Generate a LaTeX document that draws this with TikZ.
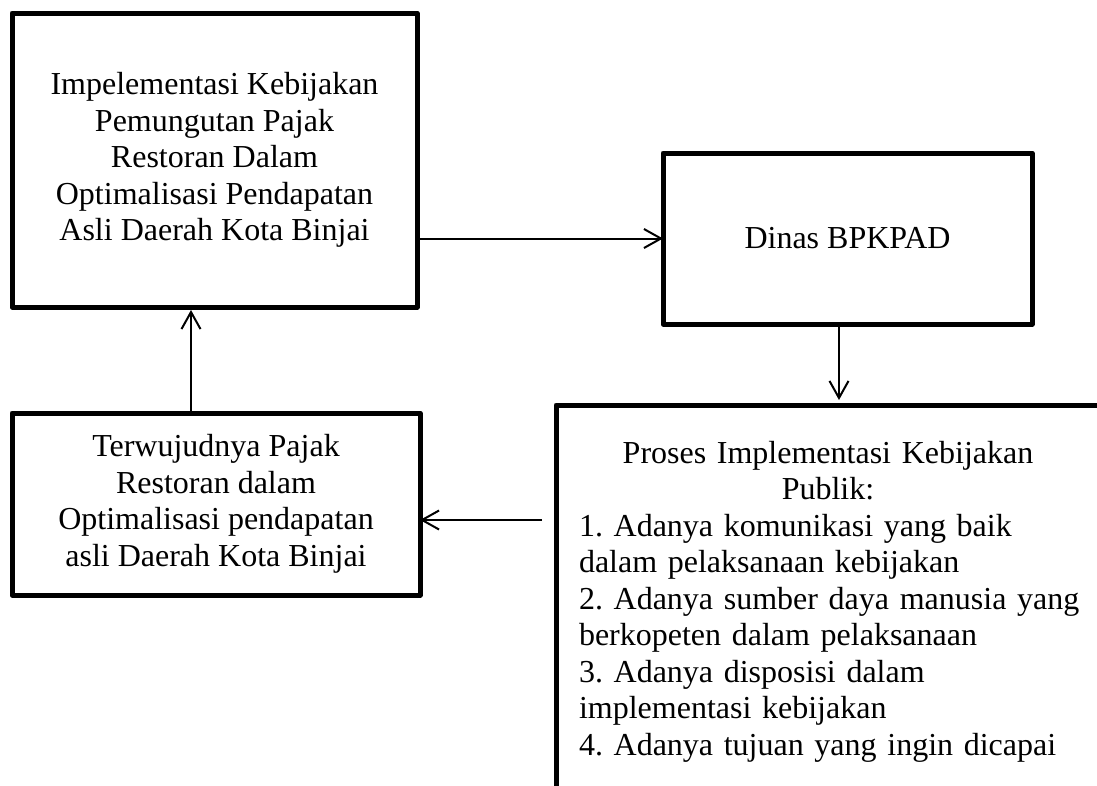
\documentclass[tikz,border=0pt]{standalone}
\usepackage{fontspec}
\setmainfont{Liberation Serif}
\usetikzlibrary{arrows.meta}
\begin{document}
\frenchspacing
\begin{tikzpicture}[x=1pt,y=-1pt,
  box/.style={draw, line width=5pt, rectangle, inner sep=0pt, outer sep=0pt, line join=round,
              font=\fontsize{32}{36.5}\selectfont, align=center},
  frame/.style={line width=5pt, line join=round},
  arr/.style={line width=2pt, -{Straight Barb[length=17pt,width=19pt]}}]
\useasboundingbox (0,0) rectangle (1097,785);

\node[box, minimum width=405pt, minimum height=294pt] (b1) at (214.5,160)
  {Impelementasi Kebijakan\\Pemungutan Pajak\\Restoran Dalam\\Optimalisasi Pendapatan\\Asli Daerah Kota Binjai};

\node[box, minimum width=369pt, minimum height=171pt] (b2) at (847.5,238.5) {Dinas BPKPAD};

\node[box, minimum width=408pt, minimum height=182pt] (b4) at (216,504)
  {Terwujudnya Pajak\\Restoran dalam\\Optimalisasi pendapatan\\asli Daerah Kota Binjai};

\node[inner sep=0pt, outer sep=0pt, minimum width=544pt, minimum height=395pt] (b3) at (828,602.5) {};
\node[inner sep=0pt, outer sep=0pt, text width=498pt, font=\fontsize{32}{36.5}\selectfont] (t3) at (828,601.5)
  {\frenchspacing\centering Proses Implementasi Kebijakan\\Publik:\par
   \raggedright
   \mbox{1. Adanya komunikasi yang baik}\\
   \mbox{dalam pelaksanaan kebijakan}\\
   \mbox{2. Adanya sumber daya manusia yang}\\
   \mbox{berkopeten dalam pelaksanaan}\\
   \mbox{3. Adanya disposisi dalam}\\
   \mbox{implementasi kebijakan}\\
   \mbox{4. Adanya tujuan yang ingin dicapai}\par};
\draw[frame] (b3.south west) -- (b3.north west) -- (b3.north east);

\coordinate (dx) at (839,0);
\coordinate (ux) at (191,0);
\coordinate (s3) at (542,520);

\draw[arr] (b2.west -| b1.east) -- (b2.west);
\draw[arr, shorten >=5pt] (b2.south -| dx) -- (b3.north -| dx);
\draw[arr] (s3) -- (s3 -| b4.east);
\draw[arr, shorten >=3pt] (b4.north -| ux) -- (b1.south -| ux);
\end{tikzpicture}
\end{document}
